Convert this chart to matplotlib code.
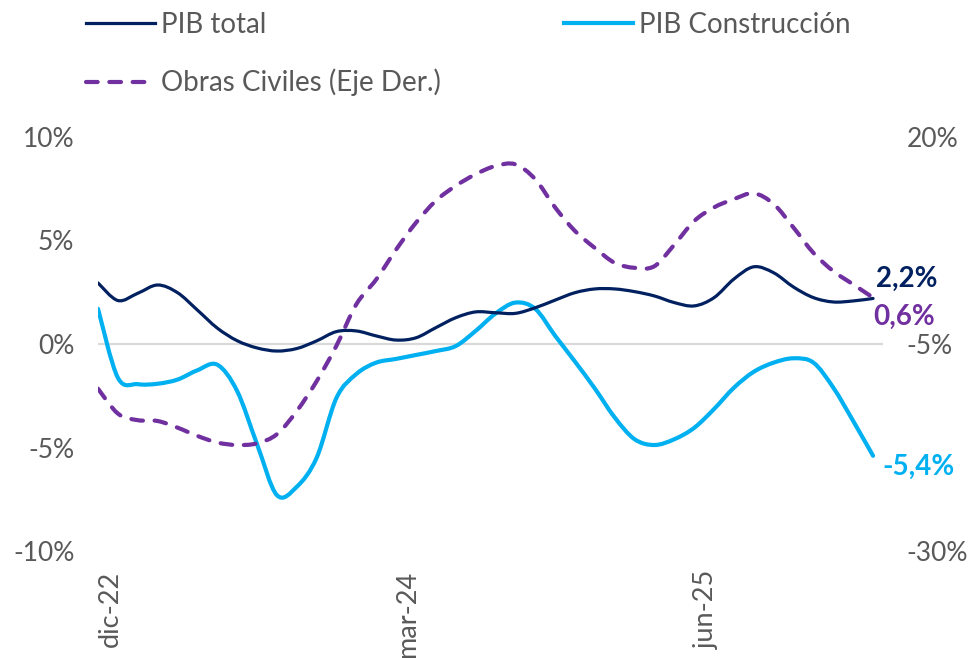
import matplotlib
matplotlib.use("Agg")
import matplotlib.pyplot as plt
import numpy as np
from matplotlib.path import Path
from matplotlib.patches import PathPatch
from matplotlib.lines import Line2D
from matplotlib.transforms import ScaledTranslation

plt.rcParams['font.family'] = ['Lato', 'DejaVu Sans']

# monthly categories, dic-22 ... mar-26
months = ["ene", "feb", "mar", "abr", "may", "jun", "jul", "ago", "sep", "oct", "nov", "dic"]
periods = ["dic-22"] + [f"{m}-{y}" for y in ("23", "24", "25") for m in months] + ["ene-26", "feb-26", "mar-26"]

# left axis (%)
pib_total = [2.95, 2.10, 2.45, 2.85, 2.48, 1.64, 0.77, 0.16, -0.19, -0.34,
             -0.22, 0.15, 0.60, 0.63, 0.39, 0.19, 0.30, 0.79, 1.27, 1.55,
             1.51, 1.48, 1.75, 2.12, 2.48, 2.66, 2.66, 2.53, 2.32, 2.00,
             1.84, 2.24, 3.14, 3.73, 3.44, 2.75, 2.24, 2.03, 2.08, 2.20]
pib_construccion = [1.70, -1.63, -1.94, -1.92, -1.72, -1.27, -1.00, -2.27, -4.83, -7.30,
                    -6.90, -5.50, -2.60, -1.45, -0.90, -0.72, -0.53, -0.34, -0.10, 0.63,
                    1.47, 2.00, 1.70, 0.40, -0.85, -2.15, -3.55, -4.60, -4.88, -4.60,
                    -4.05, -3.14, -2.11, -1.34, -0.90, -0.69, -0.90, -2.11, -3.72, -5.40]
# right axis (%)
obras_civiles = [-10.4, -13.4, -14.2, -14.3, -15.1, -16.1, -16.9, -17.2, -17.0, -15.9,
                 -13.1, -9.5, -5.2, -0.2, 2.8, 6.4, 9.65, 12.3, 14.1, 15.5,
                 16.5, 16.7, 14.9, 11.5, 8.65, 6.6, 4.8, 4.2, 4.4, 7.0,
                 9.85, 11.5, 12.5, 13.2, 11.9, 9.05, 6.0, 3.8, 2.2, 0.6]

left_ticks = [-10, -5, 0, 5, 10]
right_ticks = [-30, -5, 20]
label_every = 15

NAVY = "#002060"
CYAN = "#00B0F0"
PURPLE = "#7030A0"
GRAY = "#595959"
DASH = (0, (2.8, 2.8))


def smooth_path(x, y):
    # Excel-style smoothed line: Catmull-Rom through the points as cubic beziers
    x = np.asarray(x, float)
    y = np.asarray(y, float)
    px = np.concatenate(([x[0]], x, [x[-1]]))
    py = np.concatenate(([y[0]], y, [y[-1]]))
    verts = [(x[0], y[0])]
    codes = [Path.MOVETO]
    for i in range(len(x) - 1):
        c1 = (x[i] + (px[i + 2] - px[i]) / 6, y[i] + (py[i + 2] - py[i]) / 6)
        c2 = (x[i + 1] - (px[i + 3] - px[i + 1]) / 6, y[i + 1] - (py[i + 3] - py[i + 1]) / 6)
        verts += [c1, c2, (x[i + 1], y[i + 1])]
        codes += [Path.CURVE4] * 3
    return Path(verts, codes)


fig = plt.figure(figsize=(9.74, 6.58), dpi=100)
ax = fig.add_axes([98 / 974, 1 - 551 / 658, (883 - 98) / 974, (551 - 137) / 658])
ax2 = ax.twinx()

x = np.arange(len(periods))

ax.axhline(0, color="#D9D9D9", lw=1.6, zorder=1)
ax.add_patch(PathPatch(smooth_path(x, pib_total), fill=False, ec=NAVY, lw=2.3,
                       transform=ax.transData, zorder=3, capstyle='round'))
ax.add_patch(PathPatch(smooth_path(x, pib_construccion), fill=False, ec=CYAN, lw=3.0,
                       transform=ax.transData, zorder=2, capstyle='round'))
ax2.add_patch(PathPatch(smooth_path(x, obras_civiles), fill=False, ec=PURPLE, lw=3.0,
                        linestyle=DASH, transform=ax2.transData, capstyle='round'))

ax.set_xlim(0, 39.5)
ax.set_ylim(-10, 10)
ax2.set_ylim(-30, 20)

ax.set_yticks(left_ticks)
ax.set_yticklabels([f"{v}%" for v in left_ticks])
ax2.set_yticks(right_ticks)
ax2.set_yticklabels([f"{v}%" for v in right_ticks])
ax.set_xticks(x[::label_every])
ax.set_xticklabels(periods[::label_every], rotation=90, va="top", ha="center")

for a in (ax, ax2):
    for s in a.spines.values():
        s.set_visible(False)
    a.tick_params(length=0, labelsize=19, labelcolor=GRAY)
ax.tick_params(axis="y", pad=17)
ax2.tick_params(axis="y", pad=17)
ax.tick_params(axis="x", pad=14, labelsize=19.5)
for lab in ax.get_xticklabels():
    lab.set_transform(lab.get_transform() + ScaledTranslation(0.12, 0, fig.dpi_scale_trans))

# end-of-series labels
ax.annotate("2,2%", (x[-1], pib_total[-1]), xytext=(2, 14), textcoords="offset points",
            ha="left", va="center", color=NAVY, fontsize=20, fontweight="bold")
ax2.annotate("0,6%", (x[-1], obras_civiles[-1]), xytext=(0, -14), textcoords="offset points",
             ha="left", va="center", color=PURPLE, fontsize=20, fontweight="bold")
ax.annotate("-5,4%", (x[-1], pib_construccion[-1]), xytext=(7, -8), textcoords="offset points",
            ha="left", va="center", color=CYAN, fontsize=20, fontweight="bold")

handles = [Line2D([], [], color=NAVY, lw=2.3),
           Line2D([], [], color=PURPLE, lw=3.0, linestyle=DASH, dash_capstyle='round'),
           Line2D([], [], color=CYAN, lw=3.0)]
labels = ["PIB total", "Obras Civiles (Eje Der.)", "PIB Construcción"]
fig.legend(handles, labels, ncol=2, loc="upper left", bbox_to_anchor=(80 / 974, 0.99),
           frameon=False, fontsize=20, labelcolor=GRAY, handlelength=2.5,
           handletextpad=0.2, columnspacing=4.45, labelspacing=1.1, borderpad=0.2,
           borderaxespad=0)

fig.savefig("out.png", dpi=100)
